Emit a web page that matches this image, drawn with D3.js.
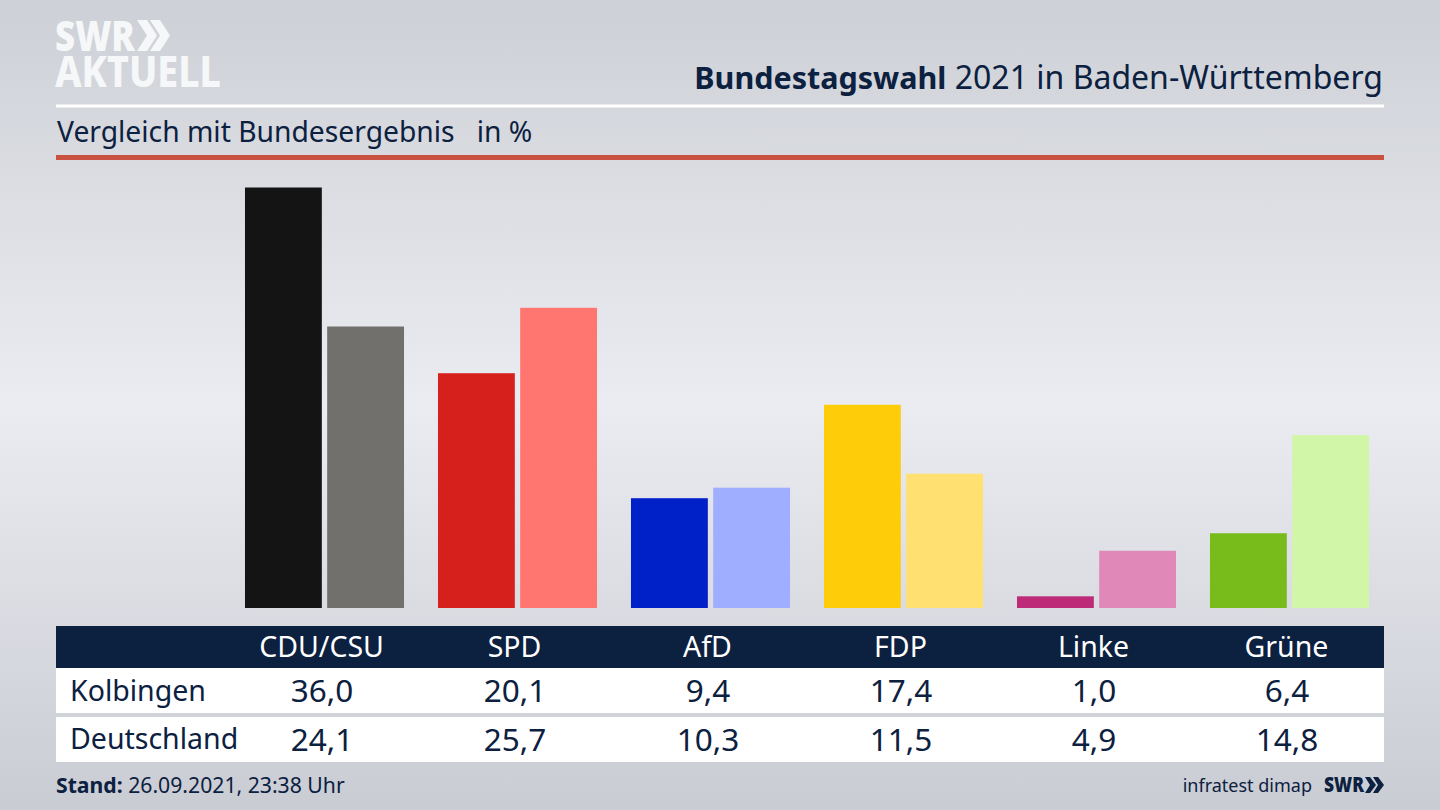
<!DOCTYPE html>
<html>
<head>
<meta charset="utf-8">
<script src="https://cdn.jsdelivr.net/npm/d3@7"></script>
<style>
  html, body { margin: 0; padding: 0; background: #d5d7dd; }
  svg { display: block; }
  text { font-family: "Noto Sans", sans-serif; fill: #0c2040; }
</style>
</head>
<body>
<div id="chart"></div>
<script>
const parties = ["CDU/CSU", "SPD", "AfD", "FDP", "Linke", "Grüne"];
const kolbingen = [36.0, 20.1, 9.4, 17.4, 1.0, 6.4];
const deutschland = [24.1, 25.7, 10.3, 11.5, 4.9, 14.8];
const kolbingenLabels = ["36,0", "20,1", "9,4", "17,4", "1,0", "6,4"];
const deutschlandLabels = ["24,1", "25,7", "10,3", "11,5", "4,9", "14,8"];
const darkColors = ["#141414", "#d6201c", "#0020c8", "#ffcc0a", "#bd2a78", "#78bc1c"];
const lightColors = ["#72706d", "#ff7570", "#a0aeff", "#ffe070", "#e089b8", "#d2f6a8"];

const width = 1440;
const height = 810;
const navy = "#0c2040";
const left = 56, right = 1384;
const baseline = 608;

const svg = d3.select("#chart").append("svg")
  .attr("width", width)
  .attr("height", height);

// Hintergrund
const grad = svg.append("defs").append("linearGradient")
  .attr("id", "bg").attr("x1", 0).attr("y1", 0).attr("x2", 0).attr("y2", 1);
grad.append("stop").attr("offset", "0%").attr("stop-color", "#cdd0d6");
grad.append("stop").attr("offset", "50%").attr("stop-color", "#ebecf1");
grad.append("stop").attr("offset", "100%").attr("stop-color", "#c9ccd3");
svg.append("rect").attr("width", width).attr("height", height).attr("fill", "url(#bg)");

// Logo
const logo = svg.append("g");
logo.append("text").attr("x", 55).attr("y", 51)
  .attr("font-size", 43).attr("font-weight", 900).attr("textLength", 80)
  .attr("lengthAdjust", "spacingAndGlyphs").style("fill", "#f6f7f8").text("SWR");
logo.append("text").attr("x", 55).attr("y", 87)
  .attr("font-size", 42).attr("font-weight", 800).attr("textLength", 166)
  .attr("lengthAdjust", "spacingAndGlyphs").style("fill", "#f6f7f8").text("AKTUELL");
[137, 150].forEach(x => {
  logo.append("path")
    .attr("d", `M${x} 20 l10 0 l10 15.5 l-10 15.5 l-10 0 l10 -15.5 z`)
    .attr("fill", "#f6f7f8");
});

// Titel
const title = svg.append("text").attr("x", 1383).attr("y", 89)
  .attr("text-anchor", "end").attr("font-size", 32);
title.append("tspan").attr("font-weight", 700).attr("font-size", 30.5).text("Bundestagswahl");
title.append("tspan").text(" 2021 in Baden-Württemberg");

svg.append("rect").attr("x", left).attr("y", 104.5).attr("width", right - left).attr("height", 3).attr("fill", "#fff");
svg.append("text").attr("x", 57).attr("y", 142).attr("font-size", 28.25)
  .attr("xml:space", "preserve").style("white-space", "pre").text("Vergleich mit Bundesergebnis   in %");
svg.append("rect").attr("x", left).attr("y", 155).attr("width", right - left).attr("height", 5).attr("fill", "#c9513f");

// Skalen
const x0 = d3.scaleBand().domain(parties).range([228, 1386]).paddingInner(0.176).paddingOuter(0.088);
const x1 = d3.scaleBand().domain([0, 1]).range([0, x0.bandwidth()]).paddingInner(0.065);
const y = d3.scaleLinear().domain([0, 36]).range([baseline, 187.5]);

// Balken
const groups = svg.selectAll("g.party").data(parties).enter().append("g")
  .attr("class", "party")
  .attr("transform", d => `translate(${x0(d)},0)`);
groups.append("rect")
  .attr("x", x1(0)).attr("width", x1.bandwidth())
  .attr("y", (d, i) => y(kolbingen[i]))
  .attr("height", (d, i) => baseline - y(kolbingen[i]))
  .attr("fill", (d, i) => darkColors[i]);
groups.append("rect")
  .attr("x", x1(1)).attr("width", x1.bandwidth())
  .attr("y", (d, i) => y(deutschland[i]))
  .attr("height", (d, i) => baseline - y(deutschland[i]))
  .attr("fill", (d, i) => lightColors[i]);

// Tabelle
svg.append("rect").attr("x", left).attr("y", 626).attr("width", right - left).attr("height", 42).attr("fill", navy);
svg.append("rect").attr("x", left).attr("y", 668).attr("width", right - left).attr("height", 45).attr("fill", "#fff");
svg.append("rect").attr("x", left).attr("y", 717).attr("width", right - left).attr("height", 45).attr("fill", "#fff");

const tableX = d => x0(d) + x0.bandwidth() / 2 - 2.5;

const axis = svg.append("g")
  .attr("transform", "translate(-3,626)")
  .call(d3.axisBottom(x0).tickSize(0));
axis.select(".domain").remove();
axis.selectAll("text")
  .attr("y", 31).attr("dy", 0)
  .attr("font-size", 28.5).attr("font-family", "Noto Sans")
  .style("fill", "#fff");

svg.append("text").attr("x", 70).attr("y", 701).attr("font-size", 28.5).text("Kolbingen");
svg.append("text").attr("x", 70).attr("y", 749).attr("font-size", 28.5).text("Deutschland");

svg.selectAll("text.row1").data(parties).enter().append("text")
  .attr("class", "row1").attr("x", tableX).attr("y", 702)
  .attr("text-anchor", "middle").attr("font-size", 31.5)
  .text((d, i) => kolbingenLabels[i]);
svg.selectAll("text.row2").data(parties).enter().append("text")
  .attr("class", "row2").attr("x", tableX).attr("y", 751)
  .attr("text-anchor", "middle").attr("font-size", 31.5)
  .text((d, i) => deutschlandLabels[i]);

// Fusszeile
const stand = svg.append("text").attr("x", 56).attr("y", 793).attr("font-size", 21.2);
stand.append("tspan").attr("font-weight", 700).text("Stand:");
stand.append("tspan").text(" 26.09.2021, 23:38 Uhr");
svg.append("text").attr("x", 1312).attr("y", 792).attr("text-anchor", "end").attr("font-size", 18).text("infratest dimap");
svg.append("text").attr("x", 1324).attr("y", 792).attr("font-size", 21).attr("font-weight", 900)
  .attr("textLength", 40).attr("lengthAdjust", "spacingAndGlyphs").text("SWR");
[1365, 1373].forEach(x => {
  svg.append("path")
    .attr("d", `M${x} 777 l5 0 l6 8 l-6 8 l-5 0 l5 -8 z`)
    .attr("fill", navy);
});
</script>
</body>
</html>
